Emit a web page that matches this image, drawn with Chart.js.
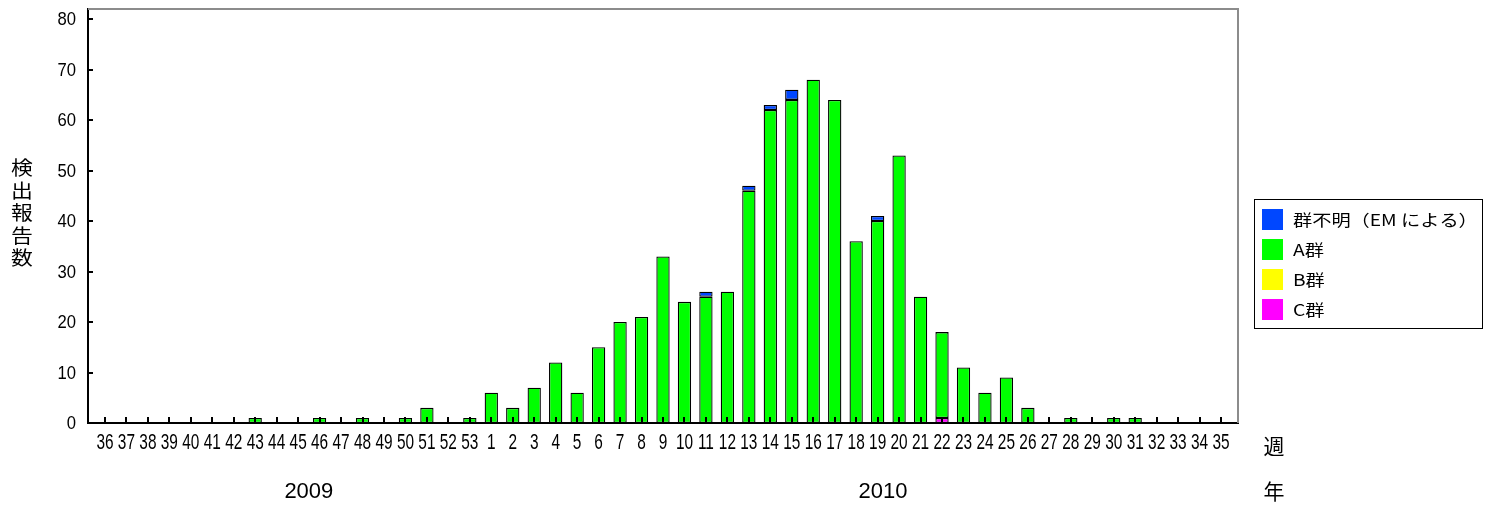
<!DOCTYPE html>
<html><head><meta charset="utf-8">
<script src="https://cdn.jsdelivr.net/npm/chart.js@4"></script>
<style>html,body{margin:0;padding:0;background:#fff;overflow:hidden}</style>
</head><body>
<canvas id="c" width="1493" height="505" style="width:1493px;height:505px;display:block"></canvas>
<script>
// ---- data ----
const weeks = ['36','37','38','39','40','41','42','43','44','45','46','47','48','49','50','51','52','53',
  '1','2','3','4','5','6','7','8','9','10','11','12','13','14','15','16','17','18','19','20','21','22','23','24','25','26','27','28','29','30','31','32','33','34','35'];
const groupA = [0,0,0,0,0,0,0,1,0,0,1,0,1,0,1,3,0,1,
  6,3,7,12,6,15,20,21,33,24,25,26,46,62,64,68,64,36,40,53,25,17,11,6,9,3,0,1,0,1,1,0,0,0,0];
const unknownEM = [0,0,0,0,0,0,0,0,0,0,0,0,0,0,0,0,0,0,
  0,0,0,0,0,0,0,0,0,0,1,0,1,1,2,0,0,0,1,0,0,0,0,0,0,0,0,0,0,0,0,0,0,0,0];
const groupB = [0,0,0,0,0,0,0,0,0,0,0,0,0,0,0,0,0,0,
  0,0,0,0,0,0,0,0,0,0,0,0,0,0,0,0,0,0,0,0,0,0,0,0,0,0,0,0,0,0,0,0,0,0,0];
const groupC = [0,0,0,0,0,0,0,0,0,0,0,0,0,0,0,0,0,0,
  0,0,0,0,0,0,0,0,0,0,0,0,0,0,0,0,0,0,0,0,0,1,0,0,0,0,0,0,0,0,0,0,0,0,0];
const seriesNames = ['群不明（EM による）','A群','B群','C群'];
const yTicks = [0,10,20,30,40,50,60,70,80];
const years = ['2009','2010'];
const yearPos = [9.5, 36.25];   // category position of year labels
const yTitle = '検出報告数';
const xUnit = '週', yearUnit = '年';

const colors = {unk:'#0047FF', A:'#00FF00', B:'#FFFF00', C:'#FF00FF'};
const pts = arr => arr.map((v,i)=>({x:i, y: v ? v : null}));

function squeezeText(ctx, txt, x, y, sx){
  ctx.save(); ctx.translate(x,y); ctx.scale(sx,1); ctx.fillText(txt,0,0); ctx.restore();
}

const deco = {
  id:'deco',
  afterDatasetsDraw(chart){
    const {ctx, chartArea:a, scales:{x,y}} = chart;
    ctx.save();
    ctx.strokeStyle='#000'; ctx.lineWidth=2;
    x.ticks.forEach(t=>{ const px=Math.round(x.getPixelForValue(t.value));
      ctx.beginPath(); ctx.moveTo(px,a.bottom); ctx.lineTo(px,a.bottom-6); ctx.stroke(); });
    y.ticks.forEach(t=>{ const py=Math.round(y.getPixelForValue(t.value));
      ctx.beginPath(); ctx.moveTo(a.left,py); ctx.lineTo(a.left+5,py); ctx.stroke(); });
    // top/right frame
    ctx.strokeStyle='#8c8c8c'; ctx.lineWidth=2;
    ctx.beginPath(); ctx.moveTo(a.left,a.top); ctx.lineTo(a.right,a.top); ctx.lineTo(a.right,a.bottom); ctx.stroke();
    ctx.fillStyle='#000'; ctx.textBaseline='middle';
    // x tick labels (condensed)
    ctx.textAlign='center';
    ctx.font='22px "Liberation Sans", Arial, sans-serif';
    x.ticks.forEach(t=>squeezeText(ctx, weeks[t.value], x.getPixelForValue(t.value), 443, 0.7));
    // y tick labels
    ctx.textAlign='right';
    ctx.font='18.5px "Liberation Sans", Arial, sans-serif';
    y.ticks.forEach(t=>squeezeText(ctx, String(t.value), 76, y.getPixelForValue(t.value)+1, 0.9));
    // year labels
    ctx.textAlign='center';
    ctx.font='22px "Liberation Sans", Arial, sans-serif';
    years.forEach((t,i)=>ctx.fillText(t, x.getPixelForValue(yearPos[i]), 492));
    ctx.font='21px "Noto Sans CJK JP", sans-serif';
    ctx.fillText(xUnit, 1274, 446);
    ctx.fillText(yearUnit, 1274, 491);
    // y title, stacked characters
    ctx.font='19px "Noto Sans CJK JP", sans-serif';
    [...yTitle].forEach((ch,i)=>squeezeText(ctx, ch, 22, 168 + i*22.5, 1.15));
    // legend
    ctx.strokeStyle='#000'; ctx.lineWidth=1;
    ctx.strokeRect(1254.5,199.5,228,129);
    const ds = chart.data.datasets.slice().reverse();
    ctx.textAlign='left';
    ds.forEach((d,i)=>{
      const cy = 219 + i*30;
      ctx.fillStyle=d.backgroundColor;
      ctx.fillRect(1262, cy-10, 21, 21);
      ctx.fillStyle='#000';
      ctx.font='16px "Noto Sans CJK JP", sans-serif';
      squeezeText(ctx, d.label, 1293, cy+1, 1.2);
    });
    ctx.restore();
  }
};

new Chart(document.getElementById('c'), {
  type:'bar',
  data:{ datasets:[
    {label:seriesNames[3], data:pts(groupC), backgroundColor:colors.C},
    {label:seriesNames[2], data:pts(groupB), backgroundColor:colors.B},
    {label:seriesNames[1], data:pts(groupA), backgroundColor:colors.A},
    {label:seriesNames[0], data:pts(unknownEM), backgroundColor:colors.unk}
  ]},
  options:{
    responsive:false, animation:false, devicePixelRatio:1,
    layout:{padding:{left:0,right:255,top:9,bottom:0}},
    datasets:{bar:{borderColor:'#000', borderWidth:1.3, borderSkipped:false, barPercentage:0.62, categoryPercentage:1}},
    plugins:{legend:{display:false}, tooltip:{enabled:false}},
    scales:{
      x:{type:'linear', offset:false, stacked:true, min:-0.79, max:52.79,
        afterBuildTicks:s=>{ s.ticks = weeks.map((_,i)=>({value:i})); },
        afterFit:s=>{ s.height = 82; s.paddingLeft=0; s.paddingRight=0; },
        grid:{display:false, drawTicks:false},
        border:{display:true, color:'#000', width:2},
        ticks:{display:false}
      },
      y:{stacked:true, min:0, max:82,
        afterBuildTicks:s=>{ s.ticks = yTicks.map(v=>({value:v})); },
        afterFit:s=>{ s.width = 88; s.paddingTop=0; s.paddingBottom=0; },
        grid:{display:false, drawTicks:false},
        border:{display:true, color:'#000', width:2},
        ticks:{display:false}
      }
    }
  },
  plugins:[deco]
});
</script>
</body></html>
